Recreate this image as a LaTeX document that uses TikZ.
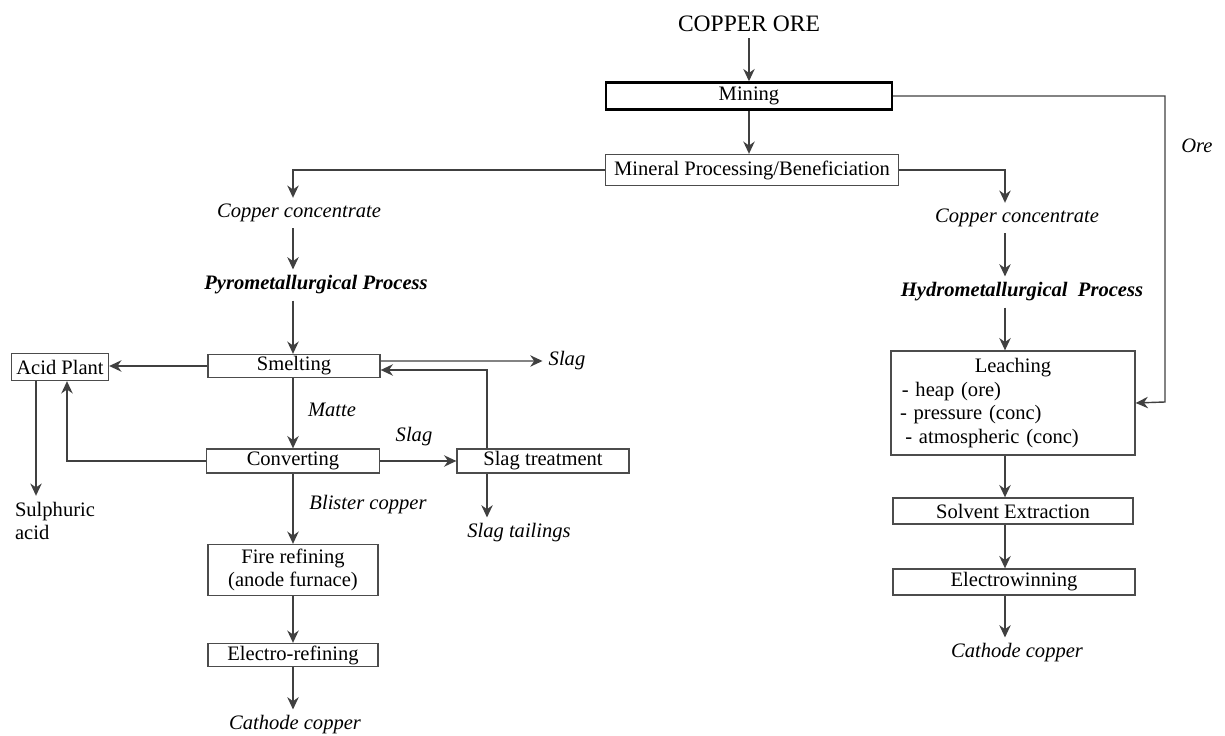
\documentclass[tikz,border=0pt]{standalone}
\usepackage{fontspec}
\setmainfont{Liberation Serif}
\usetikzlibrary{arrows.meta,positioning}

\newcommand{\flowfont}{\fontsize{11.7}{13.4}\selectfont}
\tikzset{
	box/.style={draw=black!70, line width=0.75pt, inner sep=0pt, align=center},
	flow/.style={draw=black!75, line width=0.8pt, -{Stealth[length=7pt,width=6.5pt]}},
	lbl/.style={font=\flowfont\itshape},
	proc/.style={font=\flowfont\bfseries\itshape}
}

\begin{document}
\begin{tikzpicture}[x=0.02cm, y=-0.02cm, font=\flowfont]
	\useasboundingbox (0,0) rectangle (1225,736);
	%Draw columns
	\coordinate (lcol) at (293,0);
	\coordinate (hcol) at (1005,0);
	\coordinate (orebend) at (1165,402);

	%Draw top
	\node[font=\fontsize{13.4}{16}\selectfont] (ore) at (749,24) {COPPER ORE};
	\node[box, draw=black, line width=1.4pt, minimum width=5.72cm, minimum height=0.54cm] (mining) at (749,96) {Mining};
	\node[box, minimum width=5.86cm, minimum height=0.62cm] (mineral) at (752,170) {Mineral Processing/Beneficiation};
	\node[lbl] (orelbl) at (1197,146) {Ore};

	%Draw pyrometallurgical side
	\node[lbl] (cc1) at (299,213) {Copper concentrate};
	\node[proc] (pyro) at (316,285) {Pyrometallurgical Process};
	\node[box, minimum width=3.44cm, minimum height=0.46cm] (smelt) at (294,366) {Smelting};
	\node[box, minimum width=1.94cm, minimum height=0.54cm] (acid) at (60,367) {Acid Plant};
	\node[lbl] (slag1) at (567,361) {Slag};
	\node[lbl] (matte) at (332,410) {Matte};
	\node[box, minimum width=3.46cm, minimum height=0.48cm] (conv) at (293,461) {Converting};
	\node[lbl] (slag2) at (414,437) {Slag};
	\node[box, minimum width=3.44cm, minimum height=0.48cm] (slagt) at (543,461) {Slag treatment};
	\node[lbl] (tail) at (519,533) {Slag tailings};
	\node[align=left] (sulph) at (55,521) {Sulphuric\\acid};
	\node[lbl] (blister) at (368,505) {Blister copper};
	\node[box, minimum width=3.4cm, minimum height=1.02cm] (fire) at (293,570) {Fire refining\\(anode furnace)};
	\node[box, minimum width=3.4cm, minimum height=0.46cm] (elref) at (293,655) {Electro-refining};
	\node[lbl] (cath1) at (295,725) {Cathode copper};

	%Draw hydrometallurgical side
	\node[lbl] (cc2) at (1017,218) {Copper concentrate};
	\node[proc] (hydro) at (1022,292) {Hydrometallurgical\ \ Process};
	\node[box, align=left, text width=4.52cm, inner xsep=0.18cm, minimum height=2.08cm] (leach) at (1013,403)
		{\centering Leaching\par\raggedright\hspace*{1pt}- heap (ore)\\- pressure (conc)\\\hspace*{3pt}- atmospheric (conc)};
	\node[box, minimum width=4.8cm, minimum height=0.52cm] (solv) at (1013,511) {Solvent Extraction};
	\node[box, minimum width=4.84cm, minimum height=0.52cm] (elwin) at (1014,582) {Electrowinning};
	\node[lbl] (cath2) at (1017,653) {Cathode copper};

	%Draw main line
	\draw[flow] (ore) -- (mining);
	\draw[flow] (mining.south) -- (mining.south |- mineral.north);
	\draw[flow] (mining.east) -| (orebend) -- (leach.east);

	%Draw pyrometallurgical connectors
	\draw[flow] (mineral.west) -| (lcol |- cc1.north);
	\draw[flow] (lcol |- cc1.south) -- (lcol |- pyro.north);
	\draw[flow] (lcol |- pyro.south) -- (lcol |- smelt.north);
	\draw[flow] (smelt.west) -- (smelt.west -| acid.east);
	\draw[flow] ([yshift=0.1cm]smelt.east) -- (slag1.west);
	\draw[flow] ([xshift=-1.12cm]slagt.north) |- ([yshift=-0.08cm]smelt.east);
	\draw[flow] (lcol |- smelt.south) -- (lcol |- conv.north);
	\draw[flow] (conv.west) -| ([xshift=0.14cm]acid.south);
	\draw[flow] ([xshift=-0.48cm]acid.south) -- ([xshift=-0.48cm]acid.south |- sulph.north);
	\draw[flow] (conv.east) -- (slagt.west);
	\draw[flow] ([xshift=-1.12cm]slagt.south) -- ([xshift=-1.12cm]slagt.south |- tail.north);
	\draw[flow] (lcol |- conv.south) -- (lcol |- fire.north);
	\draw[flow] (lcol |- fire.south) -- (lcol |- elref.north);
	\draw[flow] (lcol |- elref.south) -- (lcol |- cath1.north);

	%Draw hydrometallurgical connectors
	\draw[flow] (mineral.east) -| (hcol |- cc2.north);
	\draw[flow] (hcol |- cc2.south) -- (hcol |- hydro.north);
	\draw[flow] (hcol |- hydro.south) -- (hcol |- leach.north);
	\draw[flow] (hcol |- leach.south) -- (hcol |- solv.north);
	\draw[flow] (hcol |- solv.south) -- (hcol |- elwin.north);
	\draw[flow] (hcol |- elwin.south) -- (hcol |- cath2.north);
\end{tikzpicture}
\end{document}
